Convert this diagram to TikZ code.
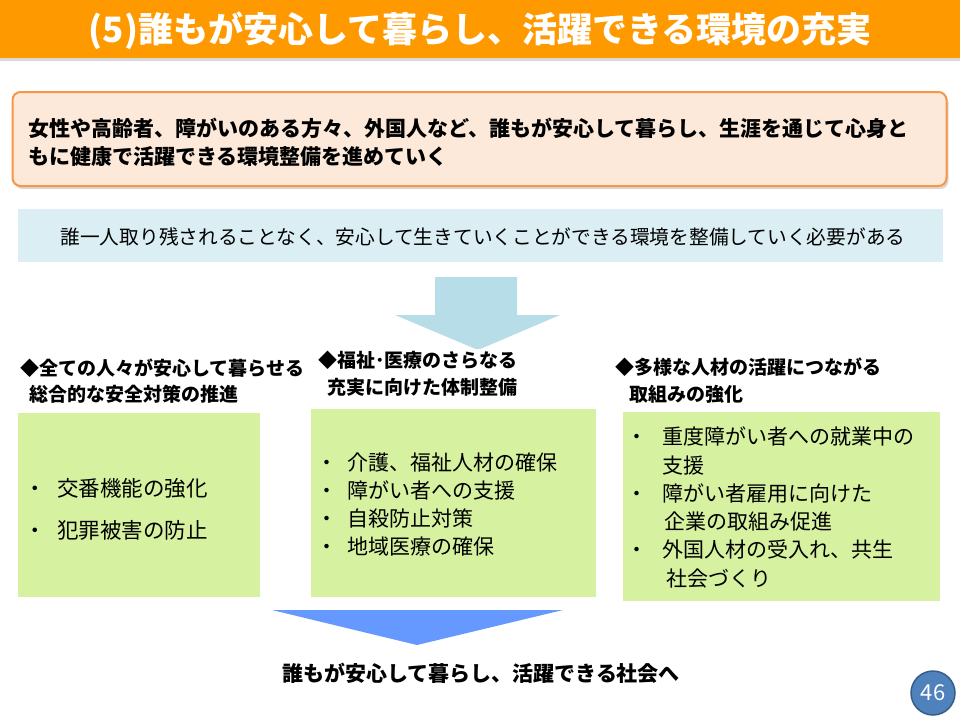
\documentclass[tikz,border=0pt]{standalone}
\usepackage{fontspec}
\setmainfont{Noto Sans CJK JP}
\usetikzlibrary{shadows}

\definecolor{barorange}{HTML}{FF9900}
\definecolor{peach}{HTML}{FDE9D9}
\definecolor{peachline}{HTML}{F79646}
\definecolor{paleblue}{HTML}{DAEEF3}
\definecolor{arrowteal}{HTML}{B7DEE8}
\definecolor{leafgreen}{RGB}{214,242,160}
\definecolor{goalblue}{HTML}{6699FF}
\definecolor{pagefill}{HTML}{4F81BD}
\definecolor{pageline}{HTML}{385D8A}

\begin{document}
\begin{tikzpicture}[x=1pt, y=-1pt, line join=round,
    greenbox/.style={fill=leafgreen, draw=none, inner sep=0pt},
    headtext/.style={anchor=west, align=left, inner sep=2pt, fill=white, font=\fontsize{19}{26.5}\selectfont\bfseries},
    itemtext/.style={anchor=west, align=left, inner sep=0pt, font=\fontsize{21}{28.3}\selectfont}]

  %% ════ タイトル帯 ════
  \node[fill=barorange, minimum width=960pt, minimum height=58pt, inner sep=0pt,
        drop shadow={opacity=0.3, shadow xshift=0pt, shadow yshift=-3pt}] (titlebar) at (480,29) {};
  \node[text=white, font=\fontsize{35}{40}\selectfont\bfseries] (title) at (480,31) {(5)誰もが安心して暮らし、活躍できる環境の充実};

  %% ════ 目標ボックス ════
  \node[fill=peach, draw=peachline, line width=2pt, rounded corners=8pt, minimum width=934pt, minimum height=94pt, inner sep=0pt,
        drop shadow={opacity=0.3, shadow xshift=2pt, shadow yshift=-3pt}] (aim) at (479.5,139) {};
  \node[anchor=west, align=left, inner sep=0pt, font=\fontsize{21}{28}\selectfont\bfseries] (aimtext) at (28,142)
    {女性や高齢者、障がいのある方々、外国人など、誰もが安心して暮らし、生涯を通じて心身と\\もに健康で活躍できる環境整備を進めていく};

  \node[fill=paleblue, minimum width=925pt, minimum height=53pt, inner sep=0pt] (need) at (480.5,235.5) {};
  \node[font=\fontsize{19.7}{24}\selectfont, inner sep=0pt] (needtext) at (483,237)
    {誰一人取り残されることなく、安心して生きていくことができる環境を整備していく必要がある};

  %% ════ 下向き矢印（上） ════
  \fill[arrowteal] (435,277) -- (517,277) -- (517,315) -- (560,315) -- (478,350) -- (395,315) -- (435,315) -- cycle;

  %% ════ 三つの柱 ════
  \node[headtext] (headsafe) at (18,381) {◆全ての人々が安心して暮らせる\\\hspace{9pt}総合的な安全対策の推進};
  \node[headtext] (headcare) at (316,373.5) {◆福祉･医療のさらなる\\\hspace{9pt}充実に向けた体制整備};
  \node[headtext] (headtalent) at (613,380.5) {◆多様な人材の活躍につながる\\\hspace{14pt}取組みの強化};

  \node[greenbox, minimum width=242pt, minimum height=184pt] (safe) at (139,505) {};
  \node[greenbox, minimum width=285pt, minimum height=188pt] (care) at (453.5,503) {};
  \node[greenbox, minimum width=317pt, minimum height=189pt] (talent) at (781.5,506.5) {};

  \node[itemtext, font=\fontsize{21.5}{42}\selectfont] (safeitems) at (24.5,509)
    {\makebox[32.5pt][l]{・}交番機能の強化\\\makebox[32.5pt][l]{・}犯罪被害の防止};
  \node[itemtext] (careitems) at (316.5,504.5)
    {\makebox[30.5pt][l]{・}介護、福祉人材の確保\\\makebox[30.5pt][l]{・}障がい者への支援\\
     \makebox[30.5pt][l]{・}自殺防止対策\\\makebox[30.5pt][l]{・}地域医療の確保};
  \node[itemtext] (talentitems) at (626.5,507.5)
    {\makebox[35.5pt][l]{・}重度障がい者への就業中の\\\hspace{36pt}支援\\
     \makebox[35.5pt][l]{・}障がい者雇用に向けた\\\hspace{38pt}企業の取組み促進\\
     \makebox[35.5pt][l]{・}外国人材の受入れ、共生\\\hspace{40pt}社会づくり};

  %% ════ 下向き矢印（下）と結び ════
  \fill[goalblue] (272,610) -- (563,610) -- (417,645) -- cycle;
  \node[font=\fontsize{21}{26}\selectfont\bfseries, inner sep=0pt] (goal) at (481,673) {誰もが安心して暮らし、活躍できる社会へ};

  %% ════ ページ番号 ════
  \node[circle, fill=pagefill, draw=pageline, line width=1.5pt, minimum size=44pt, inner sep=0pt,
        text=white, font=\fontsize{22}{26}\selectfont] (pagenum) at (933,693) {46};

  \pgfresetboundingbox
  \path[use as bounding box] (0,0) rectangle (960,720);
\end{tikzpicture}
\end{document}
